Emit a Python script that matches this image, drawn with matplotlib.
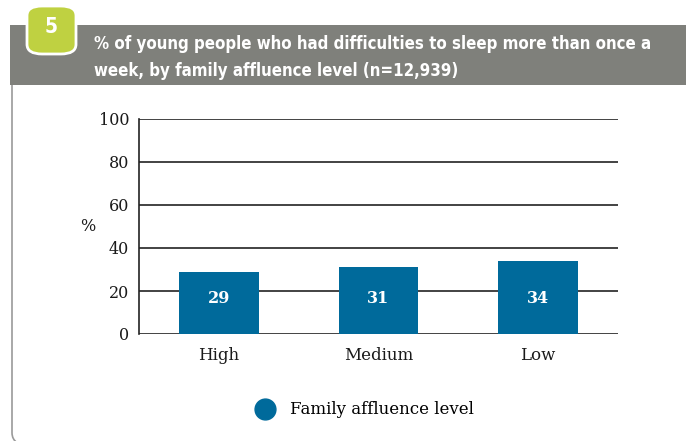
import matplotlib
matplotlib.use("Agg")
import matplotlib.pyplot as plt
from matplotlib.patches import FancyBboxPatch, Rectangle
from matplotlib.lines import Line2D

categories = ["High", "Medium", "Low"]
values = [29, 31, 34]
yticks = [0, 20, 40, 60, 80, 100]
title_lines = ["% of young people who had difficulties to sleep more than once a",
               "week, by family affluence level (n=12,939)"]
legend_label = "Family affluence level"
figure_number = "5"

bar_color = "#006a9b"
grey = "#7f807b"
green = "#bfd141"

W, H = 686, 441
fig = plt.figure(figsize=(W / 100, H / 100), dpi=100)

# pixel helpers for the frame decorations
def fx(px):
    return px / W

def fy(py):
    return 1 - py / H

# outer rounded frame (only left/bottom visible)
frame = FancyBboxPatch((fx(12), fy(446)), fx(710) - fx(12), fy(40) - fy(446),
                       boxstyle="round,pad=0,rounding_size=0.03",
                       transform=fig.transFigure, facecolor="none",
                       edgecolor="#9a9a9a", linewidth=1.2, zorder=1)
fig.patches.append(frame)

# grey header band
band = Rectangle((fx(10), fy(85)), 1 - fx(10), fy(25) - fy(85),
                 transform=fig.transFigure, facecolor=grey, edgecolor="none", zorder=2)
fig.patches.append(band)

# green number tab
tab = FancyBboxPatch((fx(27), fy(54)), fx(76) - fx(27), fy(6) - fy(54),
                     boxstyle="round,pad=0,rounding_size=0.022",
                     transform=fig.transFigure, facecolor=green,
                     edgecolor="white", linewidth=2, zorder=3)
fig.patches.append(tab)
sans = "DejaVu Sans"
fig.text(fx(51), fy(27), figure_number, color="white", fontsize=15,
         fontweight="bold", ha="center", va="center", family=sans,
         fontstretch="condensed", zorder=4)

fig.text(fx(94), fy(44), title_lines[0], color="white", fontsize=12.1,
         fontweight="bold", ha="left", va="center", family=sans,
         fontstretch="condensed", zorder=4)
fig.text(fx(94), fy(71), title_lines[1], color="white", fontsize=12.1,
         fontweight="bold", ha="left", va="center", family=sans,
         fontstretch="condensed", zorder=4)

# chart area
ax = fig.add_axes([fx(139), fy(334), fx(618) - fx(139), fy(119) - fy(334)])
serif = "DejaVu Serif"
x = range(len(categories))
ax.bar(x, values, width=0.5, color=bar_color, zorder=3)
for i, v in enumerate(values):
    ax.text(i, 16.5, str(v), color="white", fontsize=11.5, fontweight="bold",
            ha="center", va="center", family=serif, zorder=4)

ax.set_xlim(-0.5, 2.5)
ax.set_ylim(0, 100)
ax.set_yticks(yticks)
ax.set_yticklabels([str(t) for t in yticks], family=serif, fontsize=11.5, color="#1a1a1a")
ax.set_xticks(list(x))
ax.set_xticklabels(categories, family=serif, fontsize=12, color="#1a1a1a")
ax.tick_params(length=0, pad=7)
ax.tick_params(axis="x", pad=9)
ax.yaxis.grid(True, color="#222222", linewidth=1.2, zorder=0)
ax.set_axisbelow(True)
for s in ["top", "right", "bottom"]:
    ax.spines[s].set_visible(False)
ax.spines["left"].set_color("#222222")
ax.spines["left"].set_linewidth(1.2)
ax.text(-0.106, 50, "%", transform=ax.get_yaxis_transform(), family=serif,
        fontsize=11.5, ha="center", va="center", color="#1a1a1a")

# legend
handle = Line2D([], [], marker="o", linestyle="none", markersize=15,
                markerfacecolor=bar_color, markeredgecolor=bar_color)
fig.legend([handle], [legend_label], loc="center", bbox_to_anchor=(fx(361), fy(410)),
           frameon=False, prop={"family": serif, "size": 12}, handletextpad=0.5)

fig.savefig("out.png", dpi=100)
